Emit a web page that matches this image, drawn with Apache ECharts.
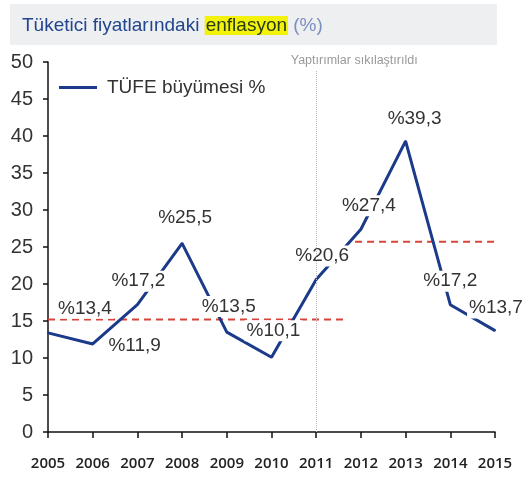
<!DOCTYPE html>
<html>
<head>
<meta charset="utf-8">
<script src="https://cdn.jsdelivr.net/npm/echarts@6/dist/echarts.min.js"></script>
<style>
  html, body { margin: 0; padding: 0; background: #fff; }
  #chart { width: 532px; height: 479px; }
</style>
</head>
<body>
<div id="chart"></div>
<script>
// data
const years = [2005, 2006, 2007, 2008, 2009, 2010, 2011, 2012, 2013, 2014, 2015]
const tufe = [13.4, 11.9, 17.2, 25.5, 13.5, 10.1, 20.6, 27.4, 39.3, 17.2, 13.7]
const avgBefore = 15.2
const avgBeforeSpan = [2005, 2011.64]
const avgAfter = 25.7
const avgAfterSpan = [2011.87, 2015.74]
const sanctionYear = 2011
const sanctionText = 'Yaptırımlar sıkılaştırıldı'

// label nudges (layout only)
const labelShift = [[37, -1], [42, 25], [1, 0], [3, -2], [2, -2], [2, -3], [6, 0], [8, 0], [9, 1], [0, 0], [1, 1]]

const chart = echarts.init(document.getElementById('chart'))

const pct = v => '%' + String(v).replace('.', ',')

const option = {
  animation: false,
  color: ['#1b3a8a'],
  graphic: [
    { type: 'rect', z: 0, shape: { x: 10, y: 4, width: 487, height: 41 }, style: { fill: '#eeeff1' } }
  ],
  title: {
    text: '{a|Tüketici fiyatlarındaki }{b|enflasyon}{c| (%)}',
    left: 22,
    top: 13,
    padding: 0,
    textStyle: {
      fontWeight: 'normal',
      rich: {
        a: { fontFamily: 'Liberation Sans', fontWeight: 'normal', fontSize: 19, color: '#22458f', lineHeight: 25 },
        b: { fontFamily: 'Liberation Sans', fontWeight: 'normal', fontSize: 19, color: '#283a14', lineHeight: 25, backgroundColor: '#f2f20a', padding: [0, 1] },
        c: { fontFamily: 'Liberation Sans', fontWeight: 'normal', fontSize: 19, color: '#7b8fc0', lineHeight: 25 }
      }
    }
  },
  legend: {
    data: [{ name: 'TÜFE büyümesi %', icon: 'rect' }],
    left: 59,
    top: 78,
    padding: 0,
    itemWidth: 38,
    itemHeight: 3,
    textStyle: { fontFamily: 'Liberation Sans', fontSize: 19, color: '#333', padding: [0, 0, 0, 5] }
  },
  grid: { left: 48, right: 37, top: 62, bottom: 47 },
  xAxis: {
    type: 'value',
    min: 2005,
    max: 2015,
    interval: 1,
    splitLine: { show: false },
    axisLine: { show: true, lineStyle: { color: '#111', width: 1.5 } },
    axisTick: { show: true, length: 6, lineStyle: { color: '#111', width: 1.5 } },
    axisLabel: {
      margin: 24,
      fontFamily: 'Open Sans',
      fontWeight: 600,
      fontSize: 15,
      color: '#222',
      formatter: v => String(v)
    }
  },
  yAxis: {
    type: 'value',
    min: 0,
    max: 50,
    interval: 5,
    splitLine: { show: false },
    axisLine: { show: true, lineStyle: { color: '#111', width: 1.5 } },
    axisTick: { show: true, length: 5, lineStyle: { color: '#111', width: 1.5 } },
    axisLabel: { margin: 15, fontFamily: 'Liberation Sans', fontSize: 20, color: '#333' }
  },
  series: [
    {
      name: 'ortalama1',
      type: 'line',
      clip: false,
      silent: true,
      symbol: 'none',
      z: 1,
      lineStyle: { color: '#d8433b', width: 2, type: [7, 5] },
      data: avgBeforeSpan.map(x => [x, avgBefore])
    },
    {
      name: 'ortalama2',
      type: 'line',
      clip: false,
      silent: true,
      symbol: 'none',
      z: 1,
      lineStyle: { color: '#d8433b', width: 2, type: [7, 5] },
      data: avgAfterSpan.map(x => [x, avgAfter])
    },
    {
      name: 'TÜFE büyümesi %',
      type: 'line',
      z: 3,
      symbol: 'circle',
      symbolSize: 2,
      lineStyle: { width: 3, color: '#1b3a8a' },
      itemStyle: { color: '#1b3a8a' },
      label: {
        show: true,
        position: 'top',
        distance: 12,
        fontFamily: 'Liberation Sans',
        fontSize: 19,
        color: '#333',
        backgroundColor: '#fff',
        padding: [1, 2],
        formatter: p => pct(p.value[1])
      },
      data: years.map((y, i) => ({ value: [y, tufe[i]], label: { offset: labelShift[i] } })),
      markLine: {
        silent: true,
        symbol: 'none',
        lineStyle: { type: 'dotted', color: '#bdbdbd', width: 1 },
        label: {
          show: true,
          position: 'end',
          formatter: sanctionText,
          fontFamily: 'Liberation Sans',
          fontSize: 12.5,
          color: '#999',
          offset: [38, 2]
        },
        data: [[{ coord: [sanctionYear, 0] }, { coord: [sanctionYear, 48.9] }]]
      }
    }
  ]
}

chart.setOption(option)
</script>
</body>
</html>
